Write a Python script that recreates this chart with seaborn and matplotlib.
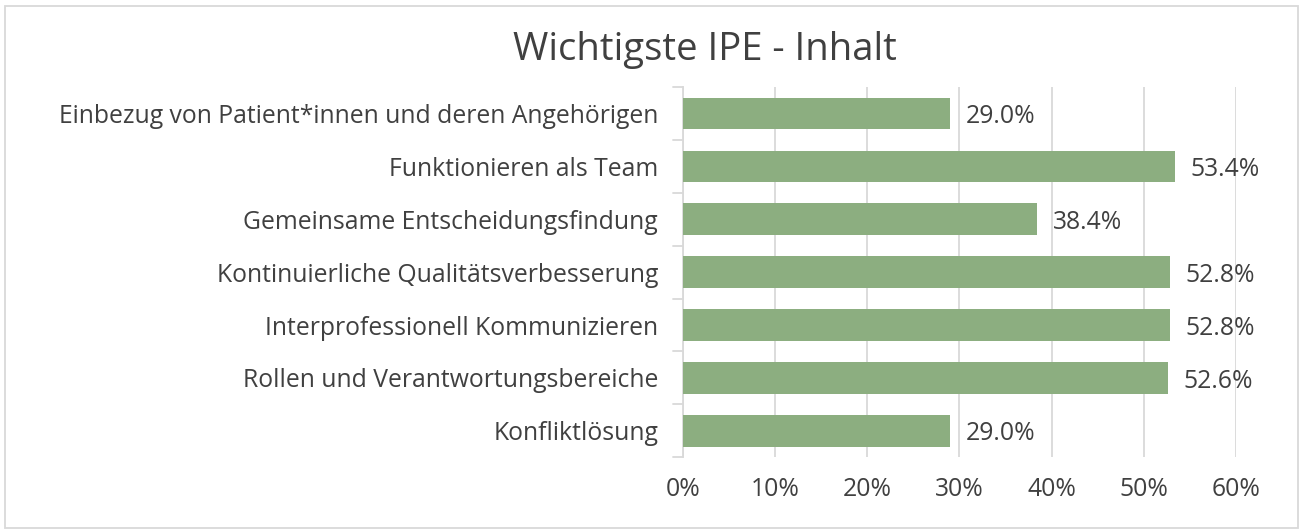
import matplotlib
matplotlib.use('Agg')
import matplotlib.pyplot as plt
import matplotlib.patches as mpatches
import seaborn as sns
import pandas as pd

categories = [
    'Einbezug von Patient*innen und deren Angehörigen',
    'Funktionieren als Team',
    'Gemeinsame Entscheidungsfindung',
    'Kontinuierliche Qualitätsverbesserung',
    'Interprofessionell Kommunizieren',
    'Rollen und Verantwortungsbereiche',
    'Konfliktlösung',
]
values = [29.0, 53.4, 38.4, 52.8, 52.8, 52.6, 29.0]
x_ticks = [0, 10, 20, 30, 40, 50, 60]

sns.set_style('white')
plt.rcParams['font.family'] = ['Open Sans', 'DejaVu Sans']

TEXT = '#404040'
GRID = '#d9d9d9'
BAR = '#8cae80'
FS = 17.8

df = pd.DataFrame({'cat': categories, 'val': values})

fig = plt.figure(figsize=(13.01, 5.31), dpi=100)
ax = fig.add_axes([0.525, 0.139, 0.425, 0.697])

sns.barplot(data=df, x='val', y='cat', color=BAR, width=0.6,
            saturation=1, linewidth=0, ax=ax, zorder=3)

for i, v in enumerate(values):
    ax.text(v + 1.7, i + 0.06, f'{v:.1f}%', va='center', ha='left',
            fontsize=FS, color=TEXT)

ax.set_xlim(0, 60)
ax.set_ylim(len(categories) - 0.5, -0.5)
ax.set_xticks(x_ticks)
ax.set_xticklabels([f'{t}%' for t in x_ticks], fontsize=FS, color=TEXT)
ax.tick_params(axis='x', length=0, pad=14)
ax.xaxis.grid(True, color=GRID, linewidth=1.3, zorder=0)
ax.set_axisbelow(True)

# y-axis with Excel-style boundary ticks
ax.set_yticks(range(len(categories)))
ax.set_yticklabels(categories, fontsize=FS, color=TEXT)
ax.tick_params(axis='y', length=0, pad=18)
for b in [i - 0.5 for i in range(len(categories) + 1)]:
    ax.plot([-1.1, 0], [b, b], color=GRID, lw=1.3, clip_on=False, zorder=2)

for s in ['top', 'right', 'bottom']:
    ax.spines[s].set_visible(False)
ax.spines['left'].set_color(GRID)
ax.spines['left'].set_linewidth(1.3)
ax.set_xlabel('')
ax.set_ylabel('')

fig.text(0.542, 0.905, 'Wichtigste IPE - Inhalt', ha='center', va='center',
         fontsize=27.5, color=TEXT)

fig.patches.append(mpatches.Rectangle((0.004, 0.006), 0.994, 0.983,
                                      transform=fig.transFigure, fill=False,
                                      edgecolor=GRID, linewidth=1.3))

fig.savefig('out.png', dpi=100, facecolor='white')
